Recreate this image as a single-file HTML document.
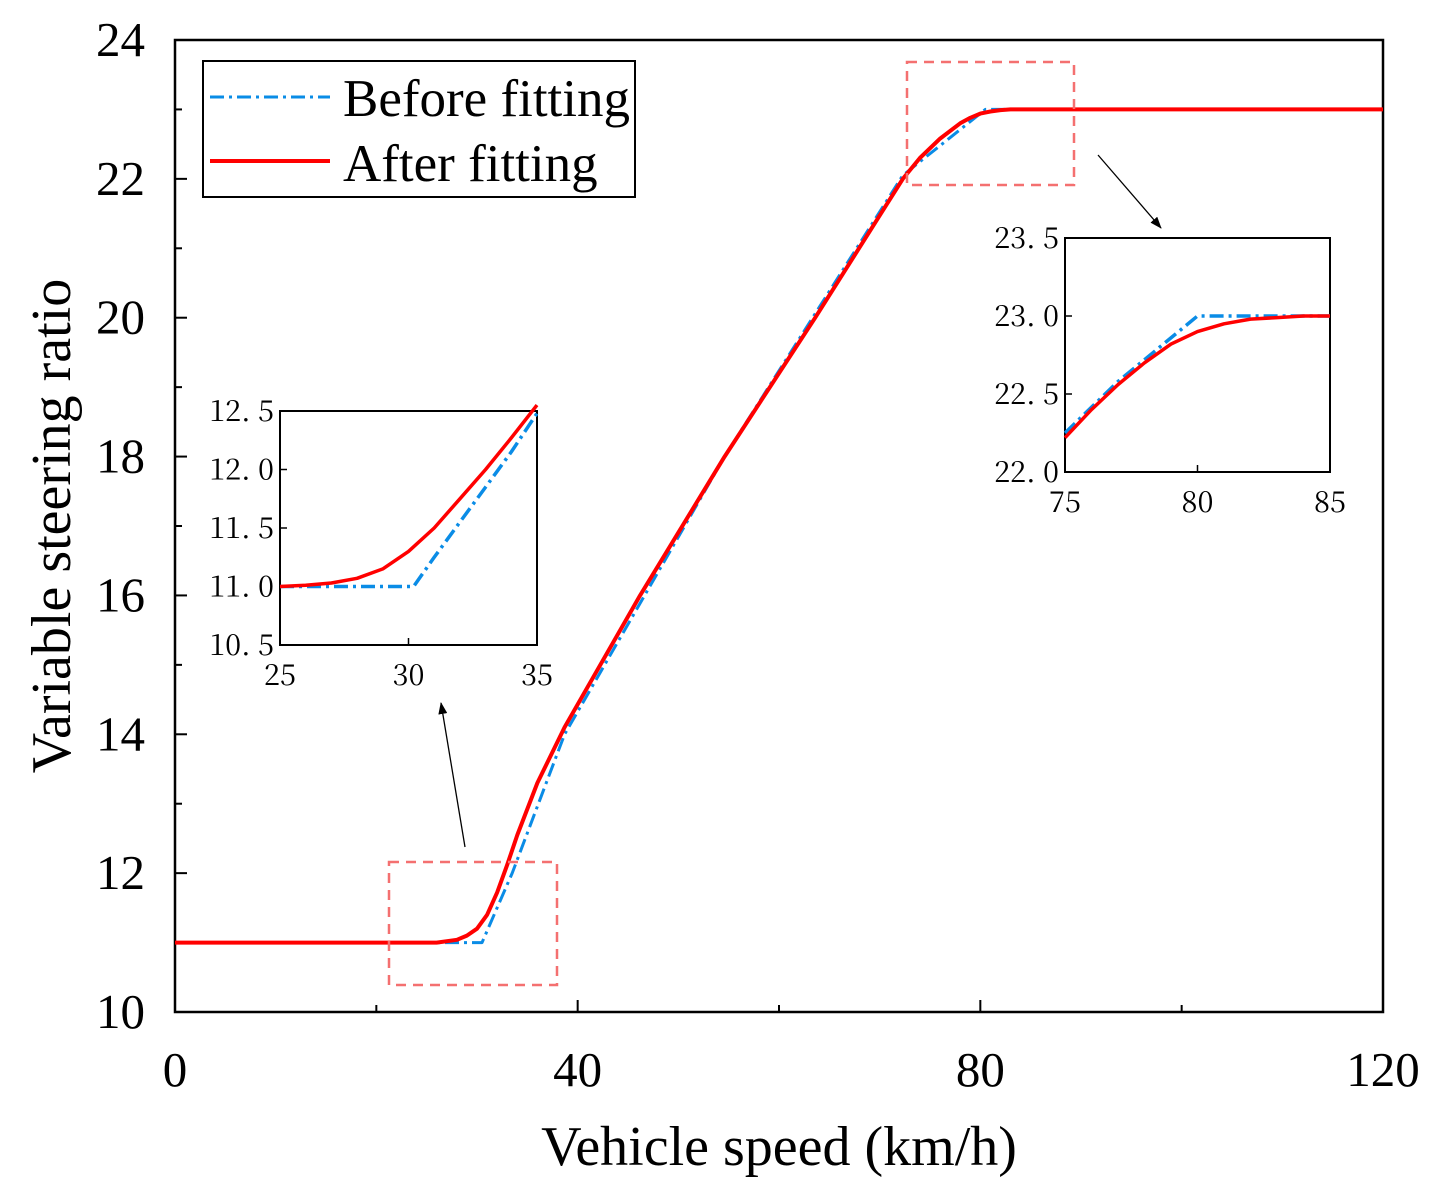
<!DOCTYPE html>
<html><head><meta charset="utf-8"><style>
html,body{margin:0;padding:0;background:#fff;}
svg{display:block;font-family:"Liberation Serif","Noto Serif CJK SC",serif;}
</style></head><body>
<svg id="c" width="1433" height="1197" viewBox="0 0 1433 1197"></svg>
<script>
const mainBeforeX=[0,30.5,33.5,38.7,54.6,72.3,80.5,120];
const mainBeforeY=[11,11,12,14,18,22.05,23,23];
const mainAfterX=[0,26,28,29,30,31,32,33,34,36,38.7,46.2,54.6,63.6,72.3,74,76,78,79,80,81,82,83,84,120];
const mainAfterY=[11,11,11.04,11.1,11.2,11.4,11.72,12.12,12.55,13.3,14.1,16,18,20,22,22.3,22.58,22.8,22.88,22.94,22.97,22.99,23,23,23];
const xTicks=[0,40,80,120];
const yTicks=[10,12,14,16,18,20,22,24];
const in1BeforeX=[25,30.2,31,32,33,34,35];
const in1BeforeY=[11,11,11.25,11.55,11.85,12.15,12.48];
const in1AfterX=[25,26,27,28,29,30,31,32,33,34,35];
const in1AfterY=[11,11.01,11.03,11.07,11.15,11.3,11.5,11.75,12.0,12.27,12.55];
const in1XTicks=[25,30,35];
const in1YTicks=[10.5,11.0,11.5,12.0,12.5];
const in2BeforeX=[75,77,80,82,85];
const in2BeforeY=[22.25,22.58,23,23,23];
const in2AfterX=[75,76,77,78,79,80,81,82,83,84,85];
const in2AfterY=[22.22,22.4,22.56,22.7,22.82,22.9,22.95,22.98,22.99,23,23];
const in2XTicks=[75,80,85];
const in2YTicks=[22.0,22.5,23.0,23.5];

const NS="http://www.w3.org/2000/svg";
const svg=document.getElementById('c');
function el(tag,attrs,parent){const e=document.createElementNS(NS,tag);for(const k in attrs)e.setAttribute(k,attrs[k]);(parent||svg).appendChild(e);return e;}
function txt(s,attrs,parent){const e=el('text',attrs,parent);e.textContent=s;return e;}

function axes(x0,x1,y0,y1,xmin,xmax,ymin,ymax){
  return {sx:v=>x0+(v-xmin)/(xmax-xmin)*(x1-x0), sy:v=>y1-(v-ymin)/(ymax-ymin)*(y1-y0)};
}
function path(xs,ys,a,attrs,name){
  let d='';xs.forEach((x,i)=>{d+=(i?'L':'M')+a.sx(x).toFixed(1)+','+a.sy(ys[i]).toFixed(1);});
  const p=el('path',Object.assign({d:d,fill:'none','stroke-linejoin':'round'},attrs));
  
  
  return p;
}
const M=axes(175,1383,40,1012,0,120,10,24);
const frame=el('rect',{x:175,y:40,width:1208,height:972,fill:'none',stroke:'#000','stroke-width':2.5});

xTicks.forEach(t=>{
  el('line',{x1:M.sx(t),x2:M.sx(t),y1:1012,y2:1000,stroke:'#000','stroke-width':2});
  const l=txt(String(t),{x:M.sx(t),y:1086,'font-size':49,'text-anchor':'middle'});
  
});
for(let t=20;t<120;t+=40){el('line',{x1:M.sx(t),x2:M.sx(t),y1:1012,y2:1005,stroke:'#000','stroke-width':2});}
yTicks.forEach(t=>{
  el('line',{x1:175,x2:187,y1:M.sy(t),y2:M.sy(t),stroke:'#000','stroke-width':2});
  const l=txt(String(t),{x:145,y:M.sy(t)+16,'font-size':49,'text-anchor':'end'});
  
});
for(let t=11;t<24;t+=2){el('line',{x1:175,x2:182,y1:M.sy(t),y2:M.sy(t),stroke:'#000','stroke-width':2});}
const xt=txt('Vehicle speed (km/h)',{x:779,y:1165,'font-size':56,'text-anchor':'middle'});

const yt=txt('Variable steering ratio',{x:0,y:0,'font-size':56,'text-anchor':'middle',transform:'translate(70,526) rotate(-90)'});

path(mainBeforeX,mainBeforeY,M,{stroke:'#0a8ce6','stroke-width':3,'stroke-dasharray':'14,5,3,5'},'before-fitting-line');
path(mainAfterX,mainAfterY,M,{stroke:'#f00','stroke-width':4},'after-fitting-line');
[[389,862,168,123],[907,62,167,123]].forEach((b,i)=>{
  const r=el('rect',{x:b[0],y:b[1],width:b[2],height:b[3],fill:'none',stroke:'#f47070','stroke-width':2.5,'stroke-dasharray':'10,7'});
  
});
el('defs',{}).innerHTML='<marker id="ah" markerWidth="12" markerHeight="9" refX="11" refY="4.5" orient="auto" markerUnits="userSpaceOnUse"><path d="M0,0L12,4.5L0,9z" fill="#000"/></marker>';
const a1=el('line',{x1:465,y1:847,x2:441,y2:703,stroke:'#000','stroke-width':1.3,'marker-end':'url(#ah)'});

const a2=el('line',{x1:1098,y1:155,x2:1161,y2:228,stroke:'#000','stroke-width':1.3,'marker-end':'url(#ah)'});

const lg=el('g',{});

el('rect',{x:203,y:61,width:432,height:136,fill:'#fff',stroke:'#000','stroke-width':2},lg);
el('line',{x1:210,x2:330,y1:97,y2:97,stroke:'#0a8ce6','stroke-width':3,'stroke-dasharray':'14,5,3,5'},lg);
el('line',{x1:210,x2:330,y1:161,y2:161,stroke:'#f00','stroke-width':4},lg);
const e1=txt('Before fitting',{x:343,y:116,'font-size':53},lg);

const e2=txt('After fitting',{x:343,y:181,'font-size':53},lg);

function inset(x0,x1,y0,y1,xmin,xmax,ymin,ymax,xt,yt,bx,by,ax,ay,name){
  const A=axes(x0,x1,y0,y1,xmin,xmax,ymin,ymax);
  const bg=el('rect',{x:x0,y:y0,width:x1-x0,height:y1-y0,fill:'#fff',stroke:'#000','stroke-width':2});
  
  xt.forEach(t=>{el('line',{x1:A.sx(t),x2:A.sx(t),y1:y1,y2:y1-7,stroke:'#000','stroke-width':1.5});
    const l=txt(String(t),{x:A.sx(t),y:y1+40,'font-size':29,'text-anchor':'middle','font-family':'"Noto Serif CJK SC",serif'});
    });
  yt.forEach(t=>{el('line',{x1:x0,x2:x0+7,y1:A.sy(t),y2:A.sy(t),stroke:'#000','stroke-width':1.5});
    const l=txt(t.toFixed(1).replace('.','. '),{x:x0-6,y:A.sy(t)+10,'font-size':29,'text-anchor':'end','font-family':'"Noto Serif CJK SC",serif'});
    });
  path(bx,by,A,{stroke:'#0a8ce6','stroke-width':3.5,'stroke-dasharray':'14,5,3,5'},name+'-before-line');
  path(ax,ay,A,{stroke:'#f00','stroke-width':3.5},name+'-after-line');
}
inset(280,537,411,645,25,35,10.5,12.5,in1XTicks,in1YTicks,in1BeforeX,in1BeforeY,in1AfterX,in1AfterY,'inset-low');
inset(1065,1330,238,472,75,85,22,23.5,in2XTicks,in2YTicks,in2BeforeX,in2BeforeY,in2AfterX,in2AfterY,'inset-high');
</script>
</body></html>
